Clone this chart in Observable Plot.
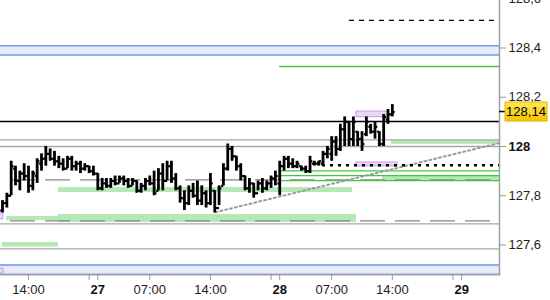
<!DOCTYPE html>
<html><head><meta charset="utf-8">
<script src="https://cdn.jsdelivr.net/npm/d3@7"></script>
<script src="https://cdn.jsdelivr.net/npm/@observablehq/plot@0.6"></script>
<style>
body{margin:0;background:#fff;}
#chart svg{display:block;}
</style></head><body><div id="chart"></div>
<script>
// Time axis: trading hours counted from 14:00 on the 26th (closed hours removed), 30-minute bars
const barStart = -3;
const barStep = 0.5;
const open = [
127.74,127.77,127.80,127.91,127.86,127.89,127.88,127.84,127.88,127.93,
127.95,127.97,127.95,127.94,127.93,127.91,127.95,127.92,127.93,127.91,
127.92,127.90,127.89,127.83,127.85,127.84,127.86,127.85,127.87,127.86,
127.84,127.86,127.82,127.84,127.86,127.85,127.82,127.89,127.86,127.92,
127.87,127.83,127.79,127.77,127.82,127.80,127.78,127.81,127.77,127.82,
127.75,127.84,127.91,127.99,127.96,127.92,127.88,127.83,127.85,127.81,
127.85,127.83,127.85,127.87,127.85,127.92,127.95,127.93,127.92,127.92,
127.91,127.90,127.93,127.93,127.93,127.97,127.97,128.02,127.99,128.07,
128.10,128.03,128.06,128.03,128.05,128.08,128.06,128.06,128.01,128.11,
128.13];
const high = [
127.78,127.81,127.94,127.92,127.90,127.93,127.92,127.90,127.95,127.97,
128.00,127.99,127.98,127.96,127.95,127.96,127.96,127.94,127.94,127.93,
127.92,127.92,127.89,127.87,127.87,127.87,127.88,127.88,127.88,127.87,
127.87,127.86,127.85,127.87,127.88,127.90,127.91,127.93,127.94,127.94,
127.89,127.84,127.82,127.84,127.85,127.86,127.84,127.82,127.89,127.82,
127.84,127.93,128.01,128.00,127.96,127.93,127.88,127.87,127.85,127.86,
127.87,127.86,127.88,127.90,127.94,127.96,127.96,127.95,127.94,127.92,
127.92,127.96,127.94,127.94,127.98,128.00,128.04,128.04,128.09,128.12,
128.10,128.12,128.06,128.06,128.12,128.09,128.10,128.06,128.13,128.15,
128.17];
const low = [
127.73,127.75,127.80,127.84,127.82,127.86,127.81,127.82,127.85,127.90,
127.92,127.94,127.92,127.91,127.90,127.91,127.90,127.90,127.89,127.90,
127.89,127.88,127.82,127.82,127.83,127.83,127.84,127.85,127.84,127.83,
127.84,127.81,127.81,127.82,127.84,127.80,127.82,127.82,127.86,127.85,
127.82,127.77,127.74,127.76,127.79,127.76,127.76,127.75,127.76,127.73,
127.76,127.84,127.90,127.94,127.90,127.86,127.82,127.81,127.79,127.82,
127.81,127.82,127.83,127.84,127.80,127.90,127.91,127.91,127.91,127.90,
127.89,127.89,127.92,127.92,127.92,127.95,127.94,127.96,127.98,128.00,
128.00,128.00,128.00,127.98,128.04,128.05,128.03,128.00,128.00,128.09,
128.12];
const close = [
127.77,127.80,127.92,127.86,127.89,127.88,127.84,127.89,127.94,127.95,
127.97,127.95,127.94,127.93,127.91,127.95,127.92,127.93,127.91,127.92,
127.90,127.89,127.83,127.85,127.84,127.86,127.85,127.87,127.86,127.84,
127.86,127.82,127.84,127.86,127.85,127.81,127.89,127.86,127.92,127.87,
127.83,127.79,127.77,127.82,127.80,127.78,127.81,127.77,127.85,127.75,
127.83,127.91,127.99,127.96,127.92,127.88,127.83,127.85,127.81,127.85,
127.83,127.85,127.87,127.88,127.92,127.95,127.93,127.92,127.93,127.91,
127.90,127.94,127.93,127.94,127.97,127.99,128.02,127.99,128.07,128.10,
128.03,128.10,128.03,128.01,128.10,128.06,128.08,128.01,128.12,128.13,
128.14];

// x axis ticks (trading hours) and labels
const timeTicks = [0, 14, 21, 35, 42];
const timeLabels = ["14:00", "07:00", "14:00", "07:00", "14:00"];
const dayTicks = [8, 29, 50];
const dayLabels = ["27", "28", "29"];
const sessionTicks = [7, 28, 49];

// y axis ticks
const priceTicks = [127.6, 127.8, 128.2, 128.4, 128.6];
const boldPriceTick = [128];

// horizontal levels
const pivotLevel = [128.101];
const grayLevels = [128.027, 128.000, 127.686, 127.584];
const dashedGrayLevels = [127.864, 127.698];
const dashedGrayStart = -2.08;
const greenLevels = [128.325, 127.901, 127.882, 127.861];
const greenStart = 29.0;
const dottedBlackLevel = [127.924];
const dottedBlackStart = 33.94;
const dashedBlackLevel = [128.512];
const dashedBlackSpan = [37.05, 53.9];
const blueBands = [[128.372, 128.409], [127.480, 127.519]];
// zones: [start hour, end hour, low price, high price]
const greenZones = [
  [3.46, 37.4, 127.813, 127.833],
  [-2.54, 3.46, 127.699, 127.716],
  [3.46, 37.86, 127.691, 127.724],
  [-3.0, 3.46, 127.591, 127.610],
  [41.9, 54.37, 128.009, 128.024],
  [40.86, 54.37, 127.859, 127.882]
];
const purpleZones = [
  [37.86, 41.44, 128.119, 128.142],
  [37.86, 42.6, 127.919, 127.935],
  [-3.8, -2.9, 127.704, 127.728],
  [-3.8, -2.9, 127.484, 127.504]
];
// trend line (dotted gray) endpoints
const trendHours = [21.59, 54.37];
const trendPrices = [127.733, 128.014];

const xDomain = [-3.232, 54.37];
const yDomain = [127.480, 128.593];

const bars = open.map((o, i) => ({t: barStart + i * barStep, o, h: high[i], l: low[i], c: close[i]}));
const trend = trendHours.map((t, i) => ({t, p: trendPrices[i]}));
const fmt = d => d.toFixed(1).replace(".", ",");
const timeLabelMap = new Map(timeTicks.map((t, i) => [t, timeLabels[i]]));
const dayLabelMap = new Map(dayTicks.map((t, i) => [t, dayLabels[i]]));
const X0 = xDomain[0], X1 = xDomain[1];

const chart = Plot.plot({
  width: 550, height: 300,
  marginLeft: 0, marginRight: 51, marginTop: 0, marginBottom: 26,
  style: {fontFamily: "'Liberation Sans', Arial, sans-serif", fontSize: "13px", color: "#222", background: "#fff"},
  x: {domain: xDomain, label: null},
  y: {domain: yDomain, label: null},
  marks: [
    Plot.rect(blueBands, {x1: X0, x2: X1, y1: d => d[0], y2: d => d[1], fill: "#e6ecfd"}),
    Plot.ruleY(blueBands.flat(), {x1: X0, x2: X1, stroke: "#6f97e8", strokeWidth: 1.5}),
    Plot.rect(greenZones, {x1: d => d[0], x2: d => d[1], y1: d => d[2], y2: d => d[3], fill: "#b5e8b5"}),
    Plot.ruleY(grayLevels, {x1: X0, x2: X1, stroke: "#a6a6a6", strokeWidth: 1.3}),
    Plot.ruleY(dashedGrayLevels, {x1: dashedGrayStart, x2: X1, stroke: "#858585", strokeWidth: 1.3, strokeDasharray: "25,10"}),
    Plot.ruleY(greenLevels, {x1: greenStart, x2: X1, stroke: "#40c840", strokeWidth: 1.3}),
    Plot.rect(purpleZones, {x1: d => d[0], x2: d => d[1], y1: d => d[2], y2: d => d[3], fill: "#ecd6f6", stroke: "#c99ae6", strokeWidth: 1}),
    Plot.line(trend, {x: "t", y: "p", stroke: "#9a9a9a", strokeWidth: 2, strokeDasharray: "2,3"}),
    Plot.ruleY(dottedBlackLevel, {x1: dottedBlackStart, x2: X1, stroke: "#000", strokeWidth: 2.5, strokeDasharray: "3,5"}),
    Plot.ruleY(dashedBlackLevel, {x1: dashedBlackSpan[0], x2: dashedBlackSpan[1], stroke: "#000", strokeWidth: 1.3, strokeDasharray: "5,5"}),
    Plot.ruleY(pivotLevel, {x1: X0, x2: X1, stroke: "#000", strokeWidth: 1.5}),
    // OHLC bars
    Plot.ruleX(bars, {x: "t", y1: "l", y2: "h", stroke: "#000", strokeWidth: 2.8}),
    Plot.link(bars, {x1: d => d.t - 0.27, x2: "t", y1: "o", y2: "o", stroke: "#000", strokeWidth: 2.2}),
    Plot.link(bars, {x1: "t", x2: d => d.t + 0.27, y1: "c", y2: "c", stroke: "#000", strokeWidth: 2.2}),
    Plot.frame({anchor: "right", stroke: "#a0a0a0", strokeWidth: 1.5}),
    Plot.frame({anchor: "bottom", stroke: "#a0a0a0", strokeWidth: 1.5}),
    Plot.axisY({ticks: priceTicks, anchor: "right", tickSize: 6, tickPadding: 3, tickFormat: fmt, stroke: "#999", fill: "#222", fontSize: 13}),
    Plot.axisY({ticks: boldPriceTick, anchor: "right", tickSize: 6, tickPadding: 3, tickFormat: d => String(d), stroke: "#999", fill: "#111", fontSize: 13, fontWeight: "bold"}),
    Plot.axisX({ticks: timeTicks, anchor: "bottom", tickSize: 6, tickPadding: 4, tickFormat: d => timeLabelMap.get(d), stroke: "#999", fill: "#222", fontSize: 13}),
    Plot.axisX({ticks: dayTicks, anchor: "bottom", tickSize: 6, tickPadding: 4, tickFormat: d => dayLabelMap.get(d), stroke: "#999", fill: "#111", fontSize: 13, fontWeight: "bold"}),
    Plot.axisX({ticks: sessionTicks, anchor: "bottom", tickSize: 6, tickFormat: () => "", stroke: "#999"})
  ]
});
document.getElementById("chart").appendChild(chart);

// current price marker on the right axis, positioned through the y scale
const lastPrice = close[close.length - 1];
const py = chart.scale("y").apply(lastPrice);
const xr = chart.scale("x").range[1];
const svg = d3.select(chart);
const defs = svg.append("defs");
const grad = defs.append("linearGradient").attr("id", "gold").attr("x1", 0).attr("x2", 0).attr("y1", 0).attr("y2", 1);
grad.append("stop").attr("offset", "0%").attr("stop-color", "#ffe65c");
grad.append("stop").attr("offset", "100%").attr("stop-color", "#f3c400");
const g = svg.append("g");
g.append("line").attr("x1", xr).attr("x2", xr + 6).attr("y1", py).attr("y2", py).attr("stroke", "#000").attr("stroke-width", 1.5);
g.append("rect").attr("x", xr + 6).attr("y", py - 9.5).attr("width", 42).attr("height", 19).attr("fill", "url(#gold)").attr("stroke", "#e2b500");
g.append("text").attr("x", xr + 27).attr("y", py).attr("dy", "0.35em").attr("text-anchor", "middle")
  .attr("fill", "#000").style("font-size", "13px").text(lastPrice.toFixed(2).replace(".", ","));
</script>
</body></html>
